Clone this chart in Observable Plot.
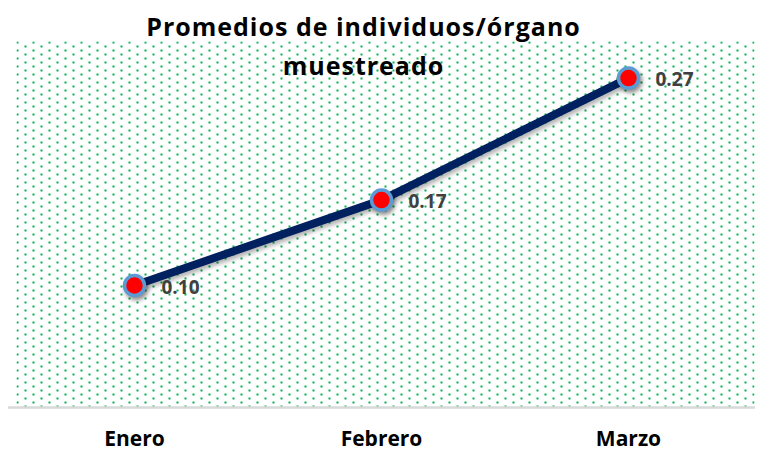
<!DOCTYPE html>
<html>
<head>
<meta charset="utf-8">
<script src="https://cdn.jsdelivr.net/npm/d3@7"></script>
<script src="https://cdn.jsdelivr.net/npm/@observablehq/plot@0.6"></script>
<style>
  html, body { margin: 0; padding: 0; background: #fff; }
  #chart { width: 760px; height: 451px; }
  svg { font-family: "Open Sans", Lato, sans-serif; }
</style>
</head>
<body>
<div id="chart"></div>
<script>
const months = ["Enero", "Febrero", "Marzo"];
const values = [0.10, 0.17, 0.27];
const valueLabels = ["0.10", "0.17", "0.27"];
const titleLines = ["Promedios de individuos/órgano", "muestreado"];

const data = months.map((m, i) => ({month: m, value: values[i], label: valueLabels[i]}));

const plot = Plot.plot({
  width: 760,
  height: 451,
  marginTop: 41,
  marginBottom: 44,
  marginLeft: 16,
  marginRight: 6,
  style: {fontFamily: "'Open Sans', Lato, sans-serif", background: "#fff"},
  x: {type: "point", domain: months, padding: 0, insetLeft: 118, insetRight: 126},
  y: {domain: [0, 0.3], axis: null},
  marks: [
    Plot.frame({fill: "url(#dotpat)", stroke: "none"}),
    Plot.ruleY([0], {stroke: "#d9d9d9", strokeWidth: 2.5, insetLeft: -8, insetRight: -1}),
    Plot.axisX({tickSize: 0, tickPadding: 24, fontSize: 21, fontWeight: "bold", fill: "#000", label: null}),
    Plot.line(data, {x: "month", y: "value", stroke: "#002060", strokeWidth: 8, strokeLinecap: "round", strokeLinejoin: "round"}),
    Plot.dot(data, {x: "month", y: "value", r: 10, fill: "#ff0000", stroke: "#5b9bd5", strokeWidth: 3.5}),
    Plot.text(data, {x: "month", y: "value", text: "label", textAnchor: "start", dx: 27, dy: 2, fontSize: 19, fontWeight: "bold", fill: "#404040"}),
    Plot.text([titleLines[0]], {frameAnchor: "top", dx: -22, dy: -6, lineAnchor: "bottom", fontSize: 25, fontWeight: "bold", fill: "#000", textAnchor: "middle"}),
    Plot.text([titleLines[1]], {frameAnchor: "top", dx: -22, dy: 33, lineAnchor: "bottom", fontSize: 25, fontWeight: "bold", fill: "#000", textAnchor: "middle"})
  ]
});

// pattern definition for dotted background
const ns = "http://www.w3.org/2000/svg";
const defs = document.createElementNS(ns, "defs");
const pat = document.createElementNS(ns, "pattern");
pat.setAttribute("id", "dotpat");
pat.setAttribute("patternUnits", "userSpaceOnUse");
pat.setAttribute("x", "16"); pat.setAttribute("y", "41");
pat.setAttribute("width", "16"); pat.setAttribute("height", "8");
[[0, 0], [8, 4]].forEach(([px, py]) => {
  const r = document.createElementNS(ns, "rect");
  r.setAttribute("x", px); r.setAttribute("y", py);
  r.setAttribute("width", 2); r.setAttribute("height", 2);
  r.setAttribute("fill", "#00b050");
  pat.appendChild(r);
});
defs.appendChild(pat);
plot.insertBefore(defs, plot.firstChild);
plot.querySelectorAll("[aria-label=frame]").forEach(g => {
  const el = g.tagName === "rect" ? g : g.querySelector("rect");
  if (el) el.setAttribute("fill", "url(#dotpat)");
});
// title letter spacing
plot.querySelectorAll("[aria-label=text] text").forEach(t => {
  if (titleLines.includes(t.textContent)) t.style.letterSpacing = "1px";
});
// shadows
plot.querySelectorAll("[aria-label=dot] circle").forEach(c => c.style.filter = "drop-shadow(2px 3px 2px rgba(0,0,0,0.45))");
plot.querySelectorAll("[aria-label=line] path").forEach(p => p.style.filter = "drop-shadow(2px 3px 2px rgba(0,0,0,0.3))");

document.getElementById("chart").appendChild(plot);
</script>
</body>
</html>
